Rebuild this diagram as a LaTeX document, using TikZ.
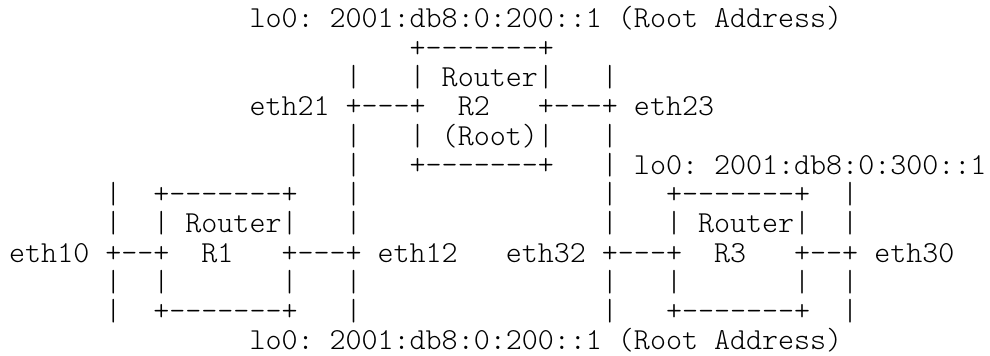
\documentclass[tikz,border=0pt]{standalone}
\usepackage{fontspec}
\newfontfamily\asciifont{lmmonolt10-regular.otf}[Ligatures=TeXOff]
\frenchspacing
\tikzset{ascii/.style={anchor=base west,inner sep=0pt,outer sep=0pt,text=black,font=\asciifont\fontsize{22.886}{22.886}\selectfont\frenchspacing}}
\newcommand\seg[4]{\node[ascii] (#1) at ({6.9pt+#2*12.015pt},{-21pt-(#3-1)*21.94pt}) {#4};}
\begin{document}
\begin{tikzpicture}
\fill[white] (0pt,0pt) rectangle (742.5pt,-267pt);
\useasboundingbox (0pt,0pt) rectangle (742.5pt,-267pt);
% row 1
\seg{loTop}{15}{1}{lo0: 2001:db8:0:200::1 (Root Address)}
% row 2
\seg{rtwoTop}{25}{2}{+-------+}
% row 3
\seg{bAthree}{21}{3}{|}
\seg{rtwoA}{25}{3}{| Router|}
\seg{bBthree}{37}{3}{|}
% row 4
\seg{ethTwoOne}{15}{4}{eth21 +---+}
\seg{rtwoName}{28}{4}{R2}
\seg{ethTwoThree}{33}{4}{+---+ eth23}
% row 5
\seg{bAfive}{21}{5}{|}
\seg{rtwoB}{25}{5}{| (Root)|}
\seg{bBfive}{37}{5}{|}
% row 6
\seg{bAsix}{21}{6}{|}
\seg{rtwoBot}{25}{6}{+-------+}
\seg{loThree}{37}{6}{| lo0: 2001:db8:0:300::1}
% row 7
\seg{cAseven}{6}{7}{|}
\seg{roneTop}{9}{7}{+-------+}
\seg{cBseven}{21}{7}{|}
\seg{cCseven}{37}{7}{|}
\seg{rthreeTop}{41}{7}{+-------+}
\seg{cDseven}{52}{7}{|}
% row 8
\seg{cAeight}{6}{8}{|}
\seg{roneA}{9}{8}{| Router|}
\seg{cBeight}{21}{8}{|}
\seg{cCeight}{37}{8}{|}
\seg{rthreeA}{41}{8}{| Router|}
\seg{cDeight}{52}{8}{|}
% row 9
\seg{ethOneZero}{0}{9}{eth10 +--+}
\seg{roneName}{12}{9}{R1}
\seg{ethOneTwo}{17}{9}{+---+ eth12}
\seg{ethThreeTwo}{31}{9}{eth32 +---+}
\seg{rthreeName}{44}{9}{R3}
\seg{ethThreeZero}{49}{9}{+--+ eth30}
% row 10
\seg{cAten}{6}{10}{|}
\seg{roneL}{9}{10}{|}
\seg{roneR}{17}{10}{|}
\seg{cBten}{21}{10}{|}
\seg{cCten}{37}{10}{|}
\seg{rthreeL}{41}{10}{|}
\seg{rthreeR}{49}{10}{|}
\seg{cDten}{52}{10}{|}
% row 11
\seg{cAeleven}{6}{11}{|}
\seg{roneBot}{9}{11}{+-------+}
\seg{cBeleven}{21}{11}{|}
\seg{cCeleven}{37}{11}{|}
\seg{rthreeBot}{41}{11}{+-------+}
\seg{cDeleven}{52}{11}{|}
% row 12
\seg{loBottom}{15}{12}{lo0: 2001:db8:0:200::1 (Root Address)}
\end{tikzpicture}
\end{document}
